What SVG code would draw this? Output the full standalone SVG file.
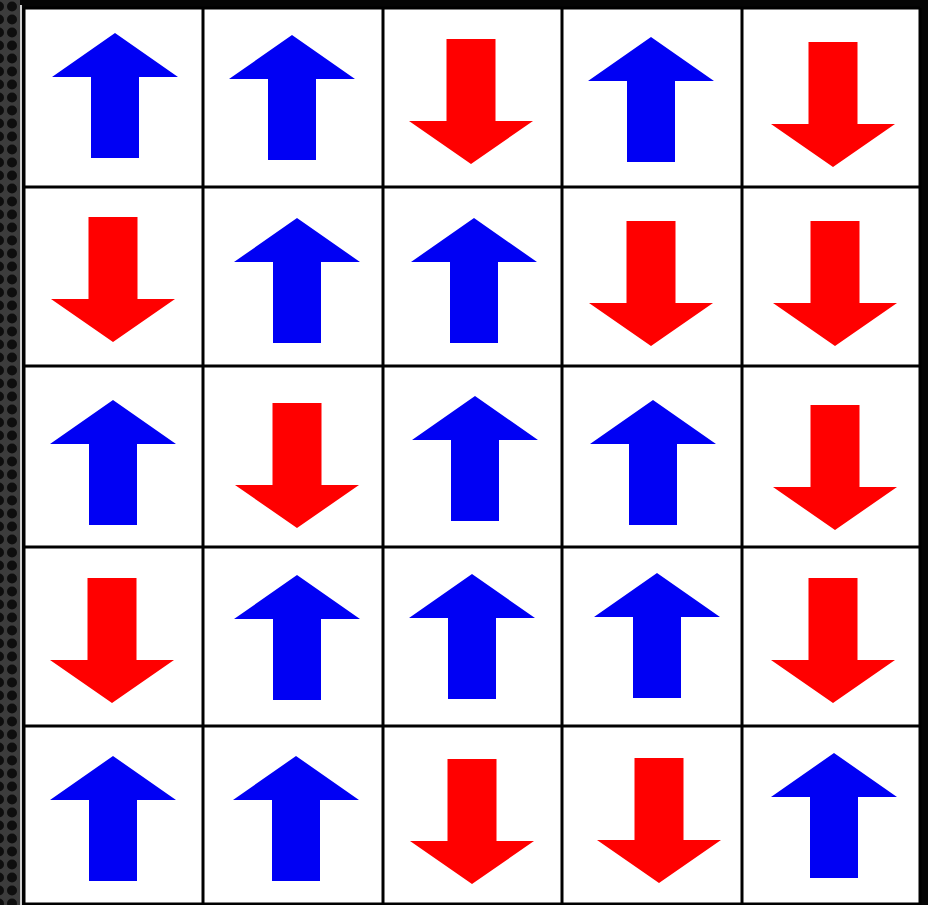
<svg xmlns="http://www.w3.org/2000/svg" width="928" height="905" viewBox="0 0 928 905">
<style>
.cell{fill:#ffffff}
.up{fill:#0000f4}
.dn{fill:#ff0000}
.grid{stroke:#000;stroke-width:3;fill:none}
</style>
<defs>
<pattern id="dots" x="-1" y="0" width="13" height="13" patternUnits="userSpaceOnUse">
<rect width="13" height="13" fill="#3c3c3c"/>
<circle cx="0" cy="6.5" r="5" fill="#0e0e0e"/>
<circle cx="13" cy="6.5" r="5" fill="#0e0e0e"/>
</pattern>
<path id="upA" d="M0 0 L63 44 L24 44 L24 125 L-24 125 L-24 44 L-63 44 Z"/>
<path id="dnA" d="M0 0 L62 -43 L24.5 -43 L24.5 -125 L-24.5 -125 L-24.5 -43 L-62 -43 Z"/>
</defs>
<rect x="0" y="0" width="928" height="905" fill="#050505"/>
<rect x="0" y="0" width="20" height="905" fill="url(#dots)"/>
<rect x="20" y="5" width="2" height="900" fill="#cfcfcf"/>
<rect x="24" y="8" width="896" height="897" fill="#fff"/>

<g id="r1c1"><use href="#upA" class="up" x="115" y="33"/></g>
<g id="r1c2"><use href="#upA" class="up" x="292" y="35"/></g>
<g id="r1c3"><use href="#dnA" class="dn" x="471" y="164"/></g>
<g id="r1c4"><use href="#upA" class="up" x="651" y="37"/></g>
<g id="r1c5"><use href="#dnA" class="dn" x="833" y="167"/></g>

<g id="r2c1"><use href="#dnA" class="dn" x="113" y="342"/></g>
<g id="r2c2"><use href="#upA" class="up" x="297" y="218"/></g>
<g id="r2c3"><use href="#upA" class="up" x="474" y="218"/></g>
<g id="r2c4"><use href="#dnA" class="dn" x="651" y="346"/></g>
<g id="r2c5"><use href="#dnA" class="dn" x="835" y="346"/></g>

<g id="r3c1"><use href="#upA" class="up" x="113" y="400"/></g>
<g id="r3c2"><use href="#dnA" class="dn" x="297" y="528"/></g>
<g id="r3c3"><use href="#upA" class="up" x="475" y="396"/></g>
<g id="r3c4"><use href="#upA" class="up" x="653" y="400"/></g>
<g id="r3c5"><use href="#dnA" class="dn" x="835" y="530"/></g>

<g id="r4c1"><use href="#dnA" class="dn" x="112" y="703"/></g>
<g id="r4c2"><use href="#upA" class="up" x="297" y="575"/></g>
<g id="r4c3"><use href="#upA" class="up" x="472" y="574"/></g>
<g id="r4c4"><use href="#upA" class="up" x="657" y="573"/></g>
<g id="r4c5"><use href="#dnA" class="dn" x="833" y="703"/></g>

<g id="r5c1"><use href="#upA" class="up" x="113" y="756"/></g>
<g id="r5c2"><use href="#upA" class="up" x="296" y="756"/></g>
<g id="r5c3"><use href="#dnA" class="dn" x="472" y="884"/></g>
<g id="r5c4"><use href="#dnA" class="dn" x="659" y="883"/></g>
<g id="r5c5"><use href="#upA" class="up" x="834" y="753"/></g>

<g id="grid" class="grid">
<line x1="24" y1="8" x2="24" y2="905"/>
<line x1="203" y1="8" x2="203" y2="905"/>
<line x1="383" y1="8" x2="383" y2="905"/>
<line x1="562" y1="8" x2="562" y2="905"/>
<line x1="742" y1="8" x2="742" y2="905"/>
<line x1="920" y1="8" x2="920" y2="905"/>
<line x1="24" y1="8" x2="920" y2="8"/>
<line x1="24" y1="187" x2="920" y2="187"/>
<line x1="24" y1="366" x2="920" y2="366"/>
<line x1="24" y1="547" x2="920" y2="547"/>
<line x1="24" y1="726" x2="920" y2="726"/>
<line x1="24" y1="904" x2="920" y2="904"/>
</g>
</svg>
